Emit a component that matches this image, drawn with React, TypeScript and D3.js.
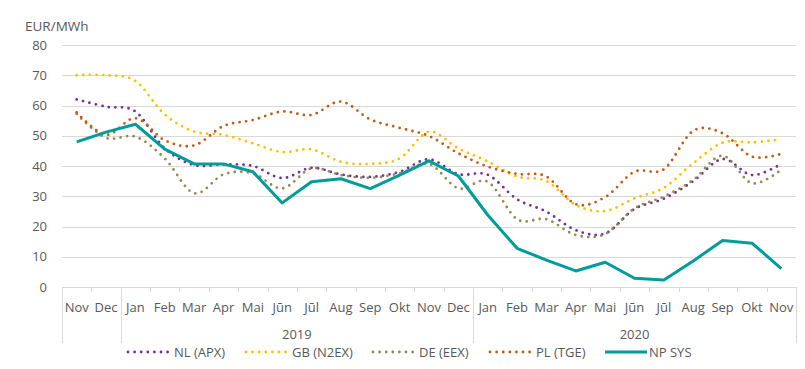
import React, { useEffect, useRef } from 'react';
import * as d3 from 'd3';

const months = ['Nov', 'Dec', 'Jan', 'Feb', 'Mar', 'Apr', 'Mai', 'Jūn', 'Jūl', 'Aug', 'Sep', 'Okt', 'Nov', 'Dec',
  'Jan', 'Feb', 'Mar', 'Apr', 'Mai', 'Jūn', 'Jūl', 'Aug', 'Sep', 'Okt', 'Nov'];
// year groups: label, first index, last index
const yearGroups = [
  { label: '', from: 0, to: 1 },
  { label: '2019', from: 2, to: 13 },
  { label: '2020', from: 14, to: 24 },
];
const yTicks = [0, 10, 20, 30, 40, 50, 60, 70, 80];

const nl = [62, 59.6, 58, 45.8, 40.3, 40.5, 40, 36, 39.4, 37.2, 36.4, 38.1, 42.2, 37.3, 37.1, 29, 24.9, 18.8, 17.7, 25.8, 29.2, 35, 42.3, 37, 40.7];
const gb = [70, 70, 68.1, 57, 51.4, 50.3, 47.5, 44.6, 45.5, 41.4, 40.7, 42.5, 51.3, 45.8, 41.5, 36.5, 35, 27.1, 25.1, 29.3, 32.8, 40.9, 47.7, 47.8, 48.8];
const de = [57.2, 49.3, 49.7, 42.5, 31, 37.2, 37.6, 32.6, 39.2, 37, 36.1, 37.6, 40.7, 32.6, 34.8, 22.4, 22.4, 17.2, 17.5, 26, 29.9, 35.4, 43.4, 34.3, 38.8];
const pl = [57.7, 50.3, 55.8, 48.5, 46.8, 53.2, 55.2, 58, 56.9, 61.3, 55.4, 52.6, 49.9, 44.2, 39.8, 37.4, 36.5, 27.4, 29.7, 38.1, 38.9, 51.6, 50.8, 43.1, 44];
const np = [48, 51.2, 53.8, 45.6, 40.7, 40.7, 38.1, 27.8, 34.8, 35.8, 32.5, 37, 41.7, 36.7, 23.8, 12.8, 8.9, 5.3, 8.2, 2.9, 2.3, 8.6, 15.4, 14.5, 6.1];

const series = [
  { name: 'NL (APX)', values: nl, color: '#7030A0', dotted: true, legendX: 128 },
  { name: 'GB (N2EX)', values: gb, color: '#FFC000', dotted: true, legendX: 246 },
  { name: 'DE (EEX)', values: de, color: '#948A54', dotted: true, legendX: 373 },
  { name: 'PL (TGE)', values: pl, color: '#C55A11', dotted: true, legendX: 490 },
  { name: 'NP SYS', values: np, color: '#009C99', dotted: false, legendX: 605 },
];

const App = () => {
  const ref = useRef<HTMLDivElement>(null);

  useEffect(() => {
    document.body.style.margin = '0';
    d3.select(ref.current).selectAll('*').remove();

    const width = 805;
    const height = 369;
    const left = 62;
    const right = 796;
    const top = 45;
    const bottom = 287;
    const font = '"Open Sans", "Noto Sans", sans-serif';
    const textColor = '#595959';

    const svg = d3
      .select(ref.current)
      .append('svg')
      .attr('width', width)
      .attr('height', height)
      .style('display', 'block')
      .style('background', '#fff');

    const x = d3
      .scaleBand<number>()
      .domain(months.map((_, i) => i))
      .range([left, right]);
    const y = d3.scaleLinear().domain([0, 80]).range([bottom, top]);
    const cx = (i: number) => (x(i) as number) + x.bandwidth() / 2;

    // gridlines
    svg
      .append('g')
      .selectAll('line')
      .data(yTicks.filter((t) => t > 0))
      .join('line')
      .attr('x1', left)
      .attr('x2', right)
      .attr('y1', (d) => Math.round(y(d)) + 0.5)
      .attr('y2', (d) => Math.round(y(d)) + 0.5)
      .attr('stroke', '#d9d9d9')
      .attr('stroke-width', 1);

    // y labels
    svg
      .append('g')
      .selectAll('text')
      .data(yTicks)
      .join('text')
      .attr('x', 47)
      .attr('y', (d) => y(d))
      .attr('dy', '0.35em')
      .attr('text-anchor', 'end')
      .attr('font-family', font)
      .attr('font-size', 13)
      .attr('fill', textColor)
      .text((d) => d);

    svg
      .append('text')
      .attr('x', 25)
      .attr('y', 31)
      .attr('font-family', font)
      .attr('font-size', 13.5)
      .attr('fill', textColor)
      .text('EUR/MWh');

    // x axis line
    svg
      .append('line')
      .attr('x1', left)
      .attr('x2', right)
      .attr('y1', bottom + 0.5)
      .attr('y2', bottom + 0.5)
      .attr('stroke', '#d9d9d9');

    // small ticks at category boundaries
    const boundaries = d3.range(months.length + 1).map((i) => left + i * x.step());
    svg
      .append('g')
      .selectAll('line')
      .data(boundaries)
      .join('line')
      .attr('x1', (d) => Math.round(d) + 0.5)
      .attr('x2', (d) => Math.round(d) + 0.5)
      .attr('y1', bottom)
      .attr('y2', bottom + 5)
      .attr('stroke', '#d9d9d9');

    // year group separators
    const groupEdges = [left, ...yearGroups.map((g) => (x(g.to) as number) + x.bandwidth())];
    svg
      .append('g')
      .selectAll('line')
      .data(groupEdges)
      .join('line')
      .attr('x1', (d) => Math.round(d) + 0.5)
      .attr('x2', (d) => Math.round(d) + 0.5)
      .attr('y1', bottom)
      .attr('y2', 343)
      .attr('stroke', '#d9d9d9');

    // month labels
    svg
      .append('g')
      .selectAll('text')
      .data(months)
      .join('text')
      .attr('x', (_, i) => cx(i))
      .attr('y', 307)
      .attr('dy', '0.35em')
      .attr('text-anchor', 'middle')
      .attr('font-family', font)
      .attr('font-size', 13)
      .attr('fill', textColor)
      .text((d) => d);

    // year labels
    svg
      .append('g')
      .selectAll('text')
      .data(yearGroups.filter((g) => g.label))
      .join('text')
      .attr('x', (g) => ((x(g.from) as number) + (x(g.to) as number) + x.bandwidth()) / 2)
      .attr('y', 334)
      .attr('dy', '0.35em')
      .attr('text-anchor', 'middle')
      .attr('font-family', font)
      .attr('font-size', 13)
      .attr('fill', textColor)
      .text((g) => g.label);

    // lines
    const smooth = d3
      .line<number>()
      .x((_, i) => cx(i))
      .y((d) => y(d))
      .curve(d3.curveCardinal.tension(0));
    const straight = d3
      .line<number>()
      .x((_, i) => cx(i))
      .y((d) => y(d));

    series.forEach((s) => {
      const p = svg
        .append('path')
        .attr('d', (s.dotted ? smooth : straight)(s.values))
        .attr('fill', 'none')
        .attr('stroke', s.color)
        .attr('stroke-linejoin', 'round');
      if (s.dotted) {
        p.attr('stroke-width', 2.8).attr('stroke-dasharray', '0 6.6').attr('stroke-linecap', 'round');
      } else {
        p.attr('stroke-width', 3);
      }
    });

    // legend
    const ly = 352;
    series.forEach((s) => {
      const g = svg.append('g');
      const markerW = s.dotted ? 40 : 42;
      const l = g
        .append('line')
        .attr('x1', s.legendX)
        .attr('x2', s.legendX + markerW)
        .attr('y1', ly)
        .attr('y2', ly)
        .attr('stroke', s.color);
      if (s.dotted) {
        l.attr('stroke-width', 2.8).attr('stroke-dasharray', '0 6.6').attr('stroke-linecap', 'round');
      } else {
        l.attr('stroke-width', 3);
      }
      g.append('text')
        .attr('x', s.legendX + markerW + (s.dotted ? 6 : 2))
        .attr('y', ly)
        .attr('dy', '0.35em')
        .attr('font-family', font)
        .attr('font-size', 13)
        .attr('fill', textColor)
        .text(s.name);
    });
  }, []);

  return <div ref={ref} />;
};

export default App;
